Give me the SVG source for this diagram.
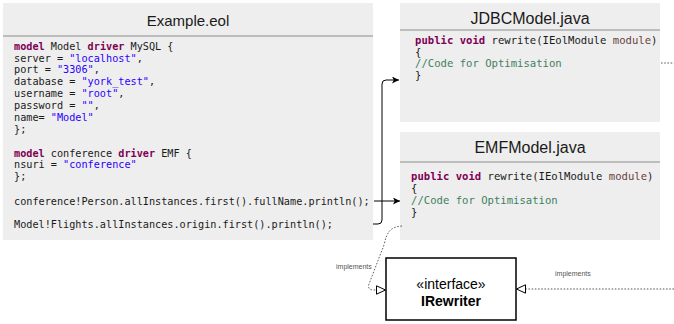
<svg xmlns="http://www.w3.org/2000/svg" width="674" height="324" viewBox="0 0 674 324">
<defs>
<style>
.panel{fill:#eeeeee;stroke:none}
.sep{stroke:#8c8c8c;stroke-width:1}
.title{font-family:"Liberation Sans",Arial,sans-serif;font-size:16px;fill:#1a1a1a;text-anchor:middle}
.eol{font-family:"DejaVu Sans Mono",monospace;font-size:10.2px;fill:#1a1a1a}
.java{font-family:"DejaVu Sans Mono",monospace;font-size:10.6px;fill:#1a1a1a}
.k{fill:#7f0055;font-weight:bold}
.s{fill:#2a00ff}
.c{fill:#3f7f5f}
.p{fill:#6a3e3e}
.conn{fill:none;stroke:#000;stroke-width:1}
.dot{fill:none;stroke:#333;stroke-width:0.8;stroke-dasharray:1.6 1.6}
.lbl{font-family:"Liberation Sans",Arial,sans-serif;font-size:7px;fill:#555}
.iface{font-family:"Liberation Sans",Arial,sans-serif;font-size:14px;fill:#000;text-anchor:middle}
</style>
<marker id="arr" viewBox="0 0 10 10" refX="10" refY="5" markerWidth="7" markerHeight="7" markerUnits="userSpaceOnUse" orient="auto">
<path d="M0,0 L10,5 L0,10 L2.5,5 Z" fill="#000"/>
</marker>
<marker id="tri" viewBox="0 0 10 10" refX="10" refY="5" markerWidth="10" markerHeight="10" markerUnits="userSpaceOnUse" orient="auto">
<path d="M0.5,0.8 L9.5,5 L0.5,9.2 Z" fill="#fff" stroke="#000" stroke-width="1"/>
</marker>
</defs>
<rect width="674" height="324" fill="#ffffff"/>

<g id="example-eol">
<rect class="panel" x="3" y="3" width="370" height="237"/>
<line class="sep" x1="3" y1="36" x2="373" y2="36"/>
<text class="title" x="188" y="26" style="font-size:15px">Example.eol</text>
<text class="eol" x="14" y="49.7"><tspan class="k">model</tspan> Model <tspan class="k">driver</tspan> MySQL {</text>
<text class="eol" x="14" y="61.6">server = <tspan class="s">"localhost"</tspan>,</text>
<text class="eol" x="14" y="73.4">port = <tspan class="s">"3306"</tspan>,</text>
<text class="eol" x="14" y="85.3">database = <tspan class="s">"york_test"</tspan>,</text>
<text class="eol" x="14" y="97.2">username = <tspan class="s">"root"</tspan>,</text>
<text class="eol" x="14" y="109.1">password = <tspan class="s">""</tspan>,</text>
<text class="eol" x="14" y="120.9">name= <tspan class="s">"Model"</tspan></text>
<text class="eol" x="14" y="132.8">};</text>
<text class="eol" x="14" y="156.5"><tspan class="k">model</tspan> conference <tspan class="k">driver</tspan> EMF {</text>
<text class="eol" x="14" y="168.4">nsuri = <tspan class="s">"conference"</tspan></text>
<text class="eol" x="14" y="180.3">};</text>
<text class="eol" x="14" y="205">conference!Person.allInstances.first().fullName.println();</text>
<text class="eol" x="14" y="227.8">Model!Flights.allInstances.origin.first().println();</text>
</g>

<g id="jdbc-model">
<rect class="panel" x="400" y="3" width="260" height="119"/>
<line class="sep" x1="400" y1="30" x2="660" y2="30"/>
<text class="title" x="530" y="24">JDBCModel.java</text>
<text class="java" x="415" y="44"><tspan class="k">public</tspan> <tspan class="k">void</tspan> rewrite(IEolModule <tspan class="p">module</tspan>)</text>
<text class="java" x="415" y="55.5">{</text>
<text class="java c" x="415" y="67">//Code for Optimisation</text>
<text class="java" x="415" y="78.5">}</text>
</g>

<g id="emf-model">
<rect class="panel" x="400" y="132" width="260" height="108"/>
<line class="sep" x1="400" y1="162" x2="660" y2="162"/>
<text class="title" x="530" y="153">EMFModel.java</text>
<text class="java" x="411" y="180"><tspan class="k">public</tspan> <tspan class="k">void</tspan> rewrite(IEolModule <tspan class="p">module</tspan>)</text>
<text class="java" x="411" y="192">{</text>
<text class="java c" x="411" y="204">//Code for Optimisation</text>
<text class="java" x="411" y="216">}</text>
</g>

<g id="irewriter">
<rect x="386" y="258" width="130" height="62" fill="#ffffff" stroke="#000" stroke-width="1.5"/>
<text class="iface" x="451" y="289">«interface»</text>
<text class="iface" x="451" y="306" font-weight="bold">IRewriter</text>
</g>

<g id="connectors">
<path class="conn" d="M374,201 L400,201" marker-end="url(#arr)"/>
<path class="conn" d="M373,224 L378,224 Q382,224 382,220 L382,84 Q382,80 386,80 L399,80" marker-end="url(#arr)"/>
<path class="dot" d="M402,226 C390,227 387,232 384,245 L369,284 Q367,290 374,290 L386,290" marker-end="url(#tri)"/>
<text class="lbl" x="336" y="269">implements</text>
<path class="dot" d="M674,289 L516,289" marker-end="url(#tri)"/>
<text class="lbl" x="555" y="276">implements</text>
<path class="dot" d="M661,63 L674,63"/>
</g>
</svg>
